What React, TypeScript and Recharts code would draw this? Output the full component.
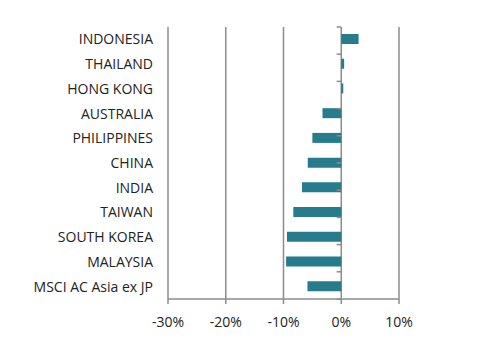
import React from "react";
import {
  BarChart,
  Bar,
  XAxis,
  YAxis,
  CartesianGrid,
  ReferenceLine,
} from "recharts";

const categories = [
  "INDONESIA",
  "THAILAND",
  "HONG KONG",
  "AUSTRALIA",
  "PHILIPPINES",
  "CHINA",
  "INDIA",
  "TAIWAN",
  "SOUTH KOREA",
  "MALAYSIA",
  "MSCI AC Asia ex JP",
];

const returns = [3.0, 0.5, 0.35, -3.25, -5.0, -5.8, -6.8, -8.3, -9.4, -9.55, -5.85];

const xTicks = [-30, -20, -10, 0, 10];

const data = categories.map((name, i) => ({ name, value: returns[i] }));
const boundaries = categories.map((_, i) => i).concat([categories.length]);

const FONT = "'Open Sans', sans-serif";
const GRID = "#8c8c8c";
const TEXT = "#222222";
const BAR = "#267b8d";

export default function App() {
  return (
    <div style={{ position: "absolute", left: 0, top: 0, width: 482, height: 361, background: "#fff" }}>
      <BarChart
        width={482}
        height={361}
        data={data}
        layout="vertical"
        margin={{ top: 27, right: 83, bottom: 0, left: 0 }}
      >
        <CartesianGrid horizontal={false} vertical={true} stroke={GRID} strokeWidth={1.5} />
        <XAxis
          type="number"
          domain={[-30, 10]}
          ticks={xTicks}
          tickFormatter={(v: number) => `${v}%`}
          axisLine={{ stroke: GRID, strokeWidth: 1.5 }}
          tickLine={{ stroke: GRID, strokeWidth: 1.5 }}
          tickSize={5}
          tickMargin={13}
          height={62}
          tick={{ fill: TEXT, fontSize: 14, fontFamily: FONT }}
        />
        <YAxis
          type="category"
          dataKey="name"
          width={168}
          axisLine={false}
          tickLine={false}
          tickSize={0}
          tickMargin={15}
          interval={0}
          tick={{ fill: TEXT, fontSize: 14, fontFamily: FONT }}
        />
        <YAxis yAxisId="b" type="number" domain={[0, categories.length]} reversed hide />
        {boundaries.map((b) => (
          <ReferenceLine
            key={b}
            yAxisId="b"
            segment={[
              { x: -0.8, y: b },
              { x: 0, y: b },
            ]}
            stroke={GRID}
            strokeWidth={1.5}
          />
        ))}
        <Bar dataKey="value" fill={BAR} barSize={10} isAnimationActive={false} />
      </BarChart>
    </div>
  );
}
